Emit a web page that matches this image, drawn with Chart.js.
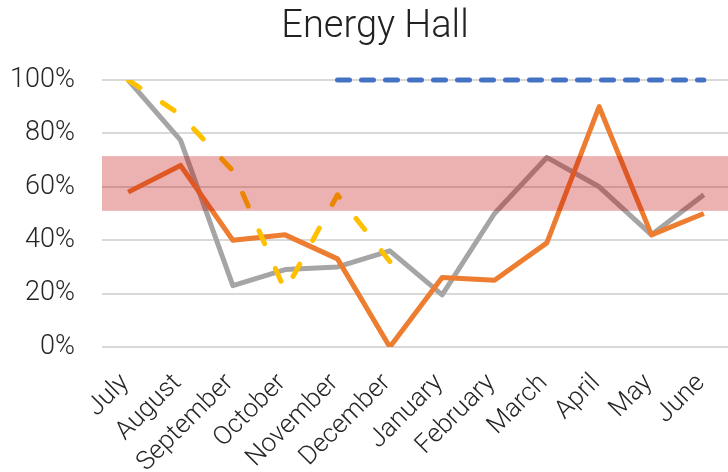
<!DOCTYPE html>
<html>
<head>
<meta charset="utf-8">
<script src="https://cdn.jsdelivr.net/npm/chart.js"></script>
<style>
	html, body { margin: 0; padding: 0; background: #fff; overflow: hidden; width: 728px; height: 472px; }
	#myChart { display: block; }
</style>
</head>
<body>
<canvas id="myChart" width="750" height="472"></canvas>
<script>
const chartTitle = 'Energy Hall';
const months = ['July', 'August', 'September', 'October', 'November', 'December',
	'January', 'February', 'March', 'April', 'May', 'June'];
const orangeSeries = [58, 68, 40, 42, 33, 0, 26, 25, 39, 90, 42, 50];
const graySeries = [100, 77.5, 23, 29, 30, 36, 19.5, 50, 71, 60, 42, 57];
const yellowSeries = [100, 87, 66, 21, 57, 32, null, null, null, null, null, null];
const blueSeries = [null, null, null, null, 100, 100, 100, 100, 100, 100, 100, 100];
const band = [51, 71.5];
const yTicks = [0, 20, 40, 60, 80, 100];

const ctx = document.getElementById('myChart');
const labelFont = { family: 'Roboto', size: 26, weight: '300' };

// red band over the lines, from the y scale
const bandPlugin = {
	id: 'band',
	afterDatasetsDraw(chart) {
		const y = chart.scales.y;
		const area = chart.chartArea;
		const top = y.getPixelForValue(band[1]);
		const bottom = y.getPixelForValue(band[0]);
		const c = chart.ctx;
		c.save();
		c.fillStyle = 'rgba(192, 0, 0, 0.3)';
		c.fillRect(area.left, top, area.right - area.left, bottom - top);
		c.restore();
	}
};

// title centred a bit right of the canvas middle, like the original
const titlePlugin = {
	id: 'topTitle',
	afterDraw(chart) {
		const c = chart.ctx;
		c.save();
		c.font = '300 38px Roboto';
		c.fillStyle = '#222';
		c.textAlign = 'center';
		c.textBaseline = 'alphabetic';
		c.fillText(chartTitle, 375, 37);
		c.restore();
	}
};

new Chart(ctx, {
	type: 'line',
	data: {
		labels: months,
		datasets: [{
			label: 'Series 3',
			data: graySeries,
			borderColor: '#A5A5A5',
			borderWidth: 5,
			order: 4
		}, {
			label: 'Series 2',
			data: orangeSeries,
			borderColor: '#ED7D31',
			borderWidth: 5,
			order: 3
		}, {
			label: 'Series 4',
			data: yellowSeries,
			borderColor: '#FFC000',
			borderWidth: 5,
			borderDash: [14, 27],
			borderCapStyle: 'round',
			order: 2
		}, {
			label: 'Series 1',
			data: blueSeries,
			borderColor: '#4472C4',
			borderWidth: 5,
			borderDash: [12, 12],
			borderCapStyle: 'round',
			clip: false,
			order: 1
		}]
	},
	options: {
		responsive: false,
		animation: false,
		devicePixelRatio: 1,
		layout: { padding: { left: 0, right: 20, top: 80, bottom: 0 } },
		elements: {
			point: { radius: 0 },
			line: { tension: 0, fill: false, borderJoinStyle: 'round' }
		},
		plugins: {
			legend: { display: false },
			tooltip: { enabled: false },
			title: { display: false }
		},
		scales: {
			x: {
				offset: true,
				grid: { display: false },
				border: { display: false },
				ticks: {
					autoSkip: false,
					maxRotation: 45,
					minRotation: 45,
					padding: 13,
					labelOffset: -3,
					color: '#262626',
					font: labelFont
				},
				afterFit(scale) { scale.height = 125; }
			},
			y: {
				min: 0,
				max: 100,
				afterBuildTicks(scale) { scale.ticks = yTicks.map(v => ({ value: v })); },
				ticks: {
					padding: 27,
					color: '#262626',
					font: { family: 'Roboto', size: 27, weight: '300' },
					callback: v => v + '%'
				},
				grid: { color: '#d9d9d9', lineWidth: 2, drawTicks: false },
				border: { display: false },
				afterFit(scale) { scale.width = 102; }
			}
		}
	},
	plugins: [bandPlugin, titlePlugin]
});
</script>
</body>
</html>
